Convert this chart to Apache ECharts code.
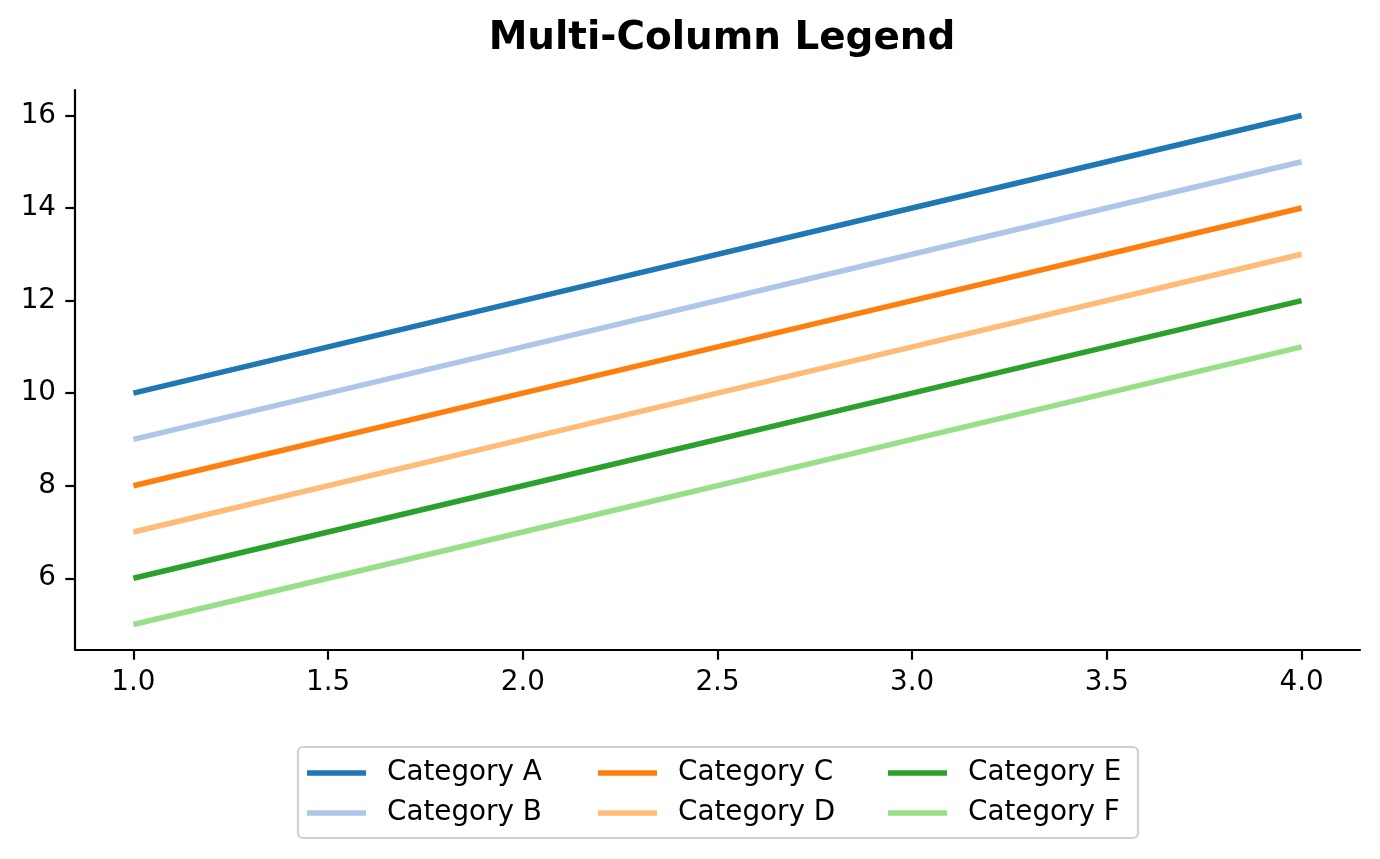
<!DOCTYPE html>
<html>
<head>
<meta charset="utf-8">
<script src="https://cdn.jsdelivr.net/npm/echarts@6/dist/echarts.min.js"></script>
<style>
html,body{margin:0;padding:0;background:#fff;}
#chart{width:1380px;height:859px;}
</style>
</head>
<body>
<div id="chart"></div>
<script>
const xValues = [1, 2, 3, 4];
const seriesNames = ['Category A', 'Category B', 'Category C', 'Category D', 'Category E', 'Category F'];
const catA = [10, 12, 14, 16];
const catB = [9, 11, 13, 15];
const catC = [8, 10, 12, 14];
const catD = [7, 9, 11, 13];
const catE = [6, 8, 10, 12];
const catF = [5, 7, 9, 11];
const xTicks = [1.0, 1.5, 2.0, 2.5, 3.0, 3.5, 4.0];
const yTicks = [6, 8, 10, 12, 14, 16];
const colors = ['#1f77b4', '#aec7e8', '#ff7f0e', '#ffbb78', '#2ca02c', '#98df8a'];

const allValues = [catA, catB, catC, catD, catE, catF];
const FONT = 'DejaVu Sans';
const tickFont = 27.8;

const series = seriesNames.map((name, i) => ({
  name: name,
  type: 'line',
  data: xValues.map((x, j) => [x, allValues[i][j]]),
  showSymbol: false,
  symbol: 'none',
  lineStyle: { color: colors[i], width: 5.5 },
  itemStyle: { color: colors[i] },
  z: 2
}));

function makeLegend(names, left) {
  return {
    data: names.map(n => ({ name: n, icon: 'rect' })),
    orient: 'vertical',
    left: left,
    top: 759,
    padding: 0,
    itemWidth: 59,
    itemHeight: 5.5,
    itemGap: 12,
    textStyle: { fontFamily: FONT, fontSize: tickFont, color: '#000', lineHeight: 28, padding: [0, 0, 0, 16] },
    selectedMode: false
  };
}

const chart = echarts.init(document.getElementById('chart'), null, { renderer: 'canvas' });
chart.setOption({
  animation: false,
  backgroundColor: '#fff',
  title: {
    text: 'Multi-Column Legend',
    left: 717,
    textAlign: 'center',
    top: 14,
    textStyle: { fontFamily: FONT, fontSize: 38.9, fontWeight: 'bold', color: '#000' }
  },
  grid: { left: 75, right: 20, top: 90, bottom: 209, containLabel: false },
  xAxis: {
    type: 'value',
    min: 0.85,
    max: 4.15,
    splitLine: { show: false },
    axisLine: { onZero: false, lineStyle: { color: '#000', width: 2.2 } },
    axisTick: { show: true, customValues: xTicks, length: 9.7, lineStyle: { color: '#000', width: 2.2 } },
    axisLabel: {
      customValues: xTicks,
      formatter: v => Number(v).toFixed(1),
      margin: 19,
      fontFamily: FONT, fontSize: tickFont, color: '#000'
    }
  },
  yAxis: {
    type: 'value',
    min: 4.45,
    max: 16.55,
    splitLine: { show: false },
    axisLine: { show: true, onZero: false, lineStyle: { color: '#000', width: 2.2 } },
    axisTick: { show: true, customValues: yTicks, length: 9.7, lineStyle: { color: '#000', width: 2.2 } },
    axisLabel: {
      customValues: yTicks,
      formatter: v => String(v),
      margin: 19,
      fontFamily: FONT, fontSize: tickFont, color: '#000'
    }
  },
  legend: [
    makeLegend(seriesNames.slice(0, 2), 307),
    makeLegend(seriesNames.slice(2, 4), 598),
    makeLegend(seriesNames.slice(4, 6), 888)
  ],
  graphic: [{
    type: 'rect',
    shape: { x: 298, y: 747, width: 840, height: 91, r: 5 },
    style: { fill: '#fff', stroke: '#d0d0d0', lineWidth: 2.2 },
    z: -1,
    silent: true
  }],
  series: series
});
</script>
</body>
</html>
